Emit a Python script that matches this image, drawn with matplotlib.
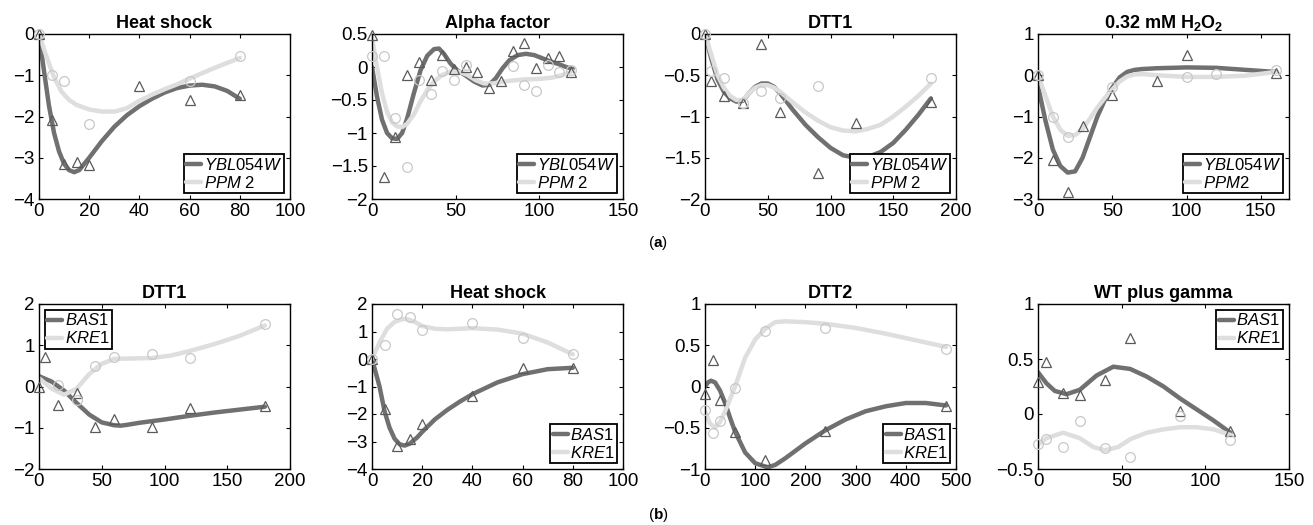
import numpy as np
import matplotlib
matplotlib.use('Agg')
import matplotlib.pyplot as plt
from matplotlib.ticker import FuncFormatter

plt.rcParams['font.family'] = ['Liberation Sans', 'DejaVu Sans']
plt.rcParams['mathtext.fontset'] = 'custom'
plt.rcParams['mathtext.rm'] = 'Liberation Sans'
plt.rcParams['mathtext.it'] = 'Liberation Sans:italic'
plt.rcParams['mathtext.bf'] = 'Liberation Sans:bold'

DARK = '#707070'
LIGHT = '#dedede'
nan = np.nan

# ---- (a) YBL054W / PPM2 ----
# Heat shock
t1 = [0, 5, 10, 15, 20, 40, 60, 80]
ybl1 = [0, -2.09, -3.14, -3.11, -3.18, -1.27, -1.59, -1.48]
ppm1 = [0, -1.0, -1.13, nan, -2.17, nan, -1.15, -0.53]
ybl1_fit_x = [0, 2, 4, 6, 8, 10, 12, 14, 16, 18, 20, 25, 30, 35, 40, 45, 50, 55, 60, 65, 70, 75, 80]
ybl1_fit_y = [0, -0.9, -1.75, -2.4, -2.85, -3.15, -3.3, -3.35, -3.3, -3.15, -3.0, -2.6, -2.25,
              -1.97, -1.75, -1.57, -1.42, -1.31, -1.25, -1.23, -1.27, -1.38, -1.57]
ppm1_fit_x = [0, 3, 6, 9, 12, 15, 20, 25, 30, 35, 40, 45, 50, 55, 60, 65, 70, 75, 80]
ppm1_fit_y = [0, -0.55, -1.05, -1.4, -1.6, -1.72, -1.83, -1.88, -1.88, -1.8, -1.62, -1.47,
              -1.34, -1.22, -1.08, -0.95, -0.82, -0.7, -0.58]

# Alpha factor
t2 = [0, 7, 14, 21, 28, 35, 42, 49, 56, 63, 70, 77, 84, 91, 98, 105, 112, 119]
ybl2 = [0.49, -1.66, -1.06, -0.12, 0.08, -0.2, 0.18, -0.03, 0.0, -0.08, -0.32, -0.21,
        0.24, 0.37, -0.02, 0.13, 0.17, -0.07]
ppm2 = [0.17, 0.16, -0.78, -1.52, -0.2, -0.41, -0.06, -0.2, 0.03, nan, nan, nan,
        0.02, -0.28, -0.37, 0.03, -0.08, -0.04]
ybl2_fit_x = [0, 3, 6, 9, 12, 15, 18, 21, 25, 29, 33, 37, 40, 43, 47, 51, 56, 61, 66, 70,
              74, 78, 82, 87, 92, 97, 102, 107, 112, 116, 120]
ybl2_fit_y = [0, -0.45, -0.8, -1.0, -1.08, -1.09, -1.0, -0.78, -0.4, -0.05, 0.17, 0.27,
              0.28, 0.2, 0.05, -0.05, -0.13, -0.22, -0.28, -0.27, -0.17, -0.02, 0.1, 0.18,
              0.2, 0.18, 0.13, 0.08, 0.04, 0.0, -0.03]
ppm2_fit_x = [0, 3, 6, 9, 12, 15, 18, 21, 25, 29, 33, 37, 42, 47, 52, 57, 62, 67, 72, 77,
              82, 90, 100, 108, 114, 120]
ppm2_fit_y = [0.45, 0.0, -0.4, -0.68, -0.84, -0.9, -0.91, -0.86, -0.72, -0.52, -0.35, -0.22,
              -0.12, -0.07, -0.07, -0.12, -0.2, -0.25, -0.25, -0.23, -0.21, -0.19, -0.18,
              -0.16, -0.12, -0.06]

# DTT1
t3 = [0, 5, 15, 30, 45, 60, 90, 120, 180]
ybl3 = [0, -0.57, -0.75, -0.84, -0.12, -0.94, -1.69, -1.08, -0.82]
ppm3 = [0, -0.45, -0.53, -0.84, -0.69, -0.78, -0.63, -1.52, -0.53]
ybl3_fit_x = [0, 5, 10, 15, 20, 25, 30, 35, 40, 45, 50, 55, 60, 70, 80, 90, 100, 110, 120,
              130, 140, 150, 160, 170, 180]
ybl3_fit_y = [0, -0.3, -0.55, -0.7, -0.78, -0.82, -0.81, -0.72, -0.64, -0.6, -0.6, -0.64,
              -0.72, -0.92, -1.1, -1.25, -1.38, -1.47, -1.5, -1.49, -1.43, -1.32, -1.16,
              -0.98, -0.78]
ppm3_fit_x = ybl3_fit_x
ppm3_fit_y = [0, -0.25, -0.5, -0.65, -0.75, -0.8, -0.8, -0.72, -0.65, -0.62, -0.62, -0.65,
              -0.7, -0.83, -0.95, -1.05, -1.13, -1.17, -1.18, -1.15, -1.1, -1.0, -0.88,
              -0.75, -0.6]

# 0.32 mM H2O2
t4 = [0, 10, 20, 30, 50, 80, 100, 120, 160]
ybl4 = [0, -2.06, -2.82, -1.24, -0.48, -0.14, 0.5, nan, 0.06]
ppm4 = [0, -1.02, -1.5, nan, -0.28, nan, -0.04, 0.02, 0.12]
ybl4_fit_x = [0, 5, 10, 15, 20, 25, 30, 35, 40, 45, 50, 55, 60, 65, 70, 80, 100, 120, 140, 160]
ybl4_fit_y = [-0.26, -1.1, -1.8, -2.2, -2.36, -2.33, -2.0, -1.5, -1.0, -0.6, -0.3, -0.05,
              0.08, 0.13, 0.15, 0.17, 0.19, 0.18, 0.13, 0.08]
ppm4_fit_x = ybl4_fit_x
ppm4_fit_y = [0, -0.5, -1.0, -1.32, -1.47, -1.45, -1.3, -1.05, -0.78, -0.55, -0.35, -0.15,
              -0.03, 0.02, 0.03, 0.0, -0.04, -0.04, -0.01, 0.08]

# ---- (b) BAS1 / KRE1 ----
# DTT1
t5 = [0, 5, 15, 30, 45, 60, 90, 120, 180]
bas5 = [0, 0.71, -0.45, -0.15, -0.99, -0.79, -0.99, -0.53, -0.47]
kre5 = [nan, nan, 0.04, -0.32, 0.49, 0.71, 0.79, 0.69, 1.52]
bas5_fit_x = [0, 10, 20, 30, 40, 50, 60, 65, 70, 80, 90, 100, 120, 140, 160, 180]
bas5_fit_y = [0.25, 0.12, -0.1, -0.4, -0.68, -0.87, -0.94, -0.95, -0.93, -0.88, -0.84, -0.8,
              -0.71, -0.63, -0.56, -0.49]
kre5_fit_x = [0, 10, 20, 30, 40, 50, 60, 75, 90, 105, 120, 140, 160, 180]
kre5_fit_y = [0.2, -0.05, -0.2, -0.05, 0.3, 0.55, 0.67, 0.68, 0.69, 0.75, 0.86, 1.03, 1.23, 1.48]

# Heat shock
t6 = [0, 5, 10, 15, 20, 40, 60, 80]
bas6 = [0, -1.8, -3.18, -2.92, -2.36, -1.33, -0.32, -0.32]
kre6 = [0, 0.5, 1.64, 1.52, 1.05, 1.3, 0.77, 0.19]
bas6_fit_x = [0, 3, 5, 7, 9, 11, 13, 15, 18, 20, 25, 30, 35, 40, 50, 60, 70, 80]
bas6_fit_y = [0, -1.0, -1.9, -2.5, -2.9, -3.1, -3.15, -3.08, -2.85, -2.65, -2.2, -1.85, -1.55,
              -1.28, -0.85, -0.55, -0.37, -0.32]
kre6_fit_x = [0, 3, 6, 9, 12, 14, 17, 20, 25, 30, 40, 50, 60, 70, 80]
kre6_fit_y = [0, 0.6, 1.1, 1.35, 1.45, 1.45, 1.35, 1.2, 1.1, 1.08, 1.12, 1.07, 0.92, 0.6, 0.17]

# DTT2
t7 = [0, 15, 30, 60, 120, 240, 480]
bas7 = [-0.09, 0.32, -0.16, -0.55, -0.89, -0.54, -0.24]
kre7 = [-0.29, -0.56, -0.42, -0.02, 0.67, 0.71, 0.45]
bas7_fit_x = [0, 6, 12, 20, 30, 40, 50, 60, 80, 100, 125, 140, 160, 200, 240, 280, 320, 360,
              400, 440, 480]
bas7_fit_y = [0, 0.05, 0.07, 0.05, -0.05, -0.2, -0.38, -0.55, -0.8, -0.93, -0.98, -0.95,
              -0.87, -0.69, -0.53, -0.4, -0.3, -0.24, -0.2, -0.2, -0.23]
kre7_fit_x = [0, 10, 20, 30, 40, 50, 60, 80, 100, 120, 140, 160, 200, 240, 300, 360, 420, 480]
kre7_fit_y = [-0.3, -0.45, -0.5, -0.43, -0.3, -0.15, 0.0, 0.35, 0.57, 0.7, 0.78, 0.79, 0.78,
              0.76, 0.71, 0.64, 0.56, 0.48]

# WT plus gamma
t8 = [0, 5, 15, 25, 40, 55, 85, 115]
bas8 = [0.29, 0.47, 0.19, 0.17, 0.31, 0.69, 0.03, -0.15]
kre8 = [-0.27, -0.23, -0.3, -0.06, -0.31, -0.39, -0.02, -0.24]
bas8_fit_x = [0, 5, 10, 17, 25, 35, 45, 55, 65, 75, 85, 95, 105, 115]
bas8_fit_y = [0.38, 0.28, 0.21, 0.18, 0.22, 0.35, 0.43, 0.41, 0.34, 0.25, 0.14, 0.04, -0.06, -0.17]
kre8_fit_x = [0, 5, 15, 25, 33, 40, 48, 55, 65, 75, 85, 95, 105, 115]
kre8_fit_y = [-0.28, -0.22, -0.17, -0.22, -0.3, -0.33, -0.3, -0.23, -0.17, -0.14, -0.12,
              -0.12, -0.14, -0.19]

YBL = r'$\mathit{YBL}$054$\mathit{W}$'
PPM = r'$\mathit{PPM}$ 2'
BAS = r'$\mathit{BAS}$1'
KRE = r'$\mathit{KRE}$1'

panels = [
    # title, t, dark pts, light pts, dark fit, light fit, labels, xlim, xticks, ylim, yticks, legend loc
    ('Heat shock', t1, ybl1, ppm1, (ybl1_fit_x, ybl1_fit_y), (ppm1_fit_x, ppm1_fit_y),
     (YBL, PPM), (0, 100), [0, 20, 40, 60, 80, 100], (-4, 0), [-4, -3, -2, -1, 0], 'lower right'),
    ('Alpha factor', t2, ybl2, ppm2, (ybl2_fit_x, ybl2_fit_y), (ppm2_fit_x, ppm2_fit_y),
     (YBL, PPM), (0, 150), [0, 50, 100, 150], (-2, 0.5), [-2, -1.5, -1, -0.5, 0, 0.5], 'lower right'),
    ('DTT1', t3, ybl3, ppm3, (ybl3_fit_x, ybl3_fit_y), (ppm3_fit_x, ppm3_fit_y),
     (YBL, PPM), (0, 200), [0, 50, 100, 150, 200], (-2, 0), [-2, -1.5, -1, -0.5, 0], 'lower right'),
    (r'0.32 mM H$_\mathbf{2}$O$_\mathbf{2}$', t4, ybl4, ppm4, (ybl4_fit_x, ybl4_fit_y),
     (ppm4_fit_x, ppm4_fit_y), (YBL, r'$\mathit{PPM}$2'), (0, 169), [0, 50, 100, 150],
     (-3, 1), [-3, -2, -1, 0, 1], 'lower right'),
    ('DTT1', t5, bas5, kre5, (bas5_fit_x, bas5_fit_y), (kre5_fit_x, kre5_fit_y),
     (BAS, KRE), (0, 200), [0, 50, 100, 150, 200], (-2, 2), [-2, -1, 0, 1, 2], 'upper left'),
    ('Heat shock', t6, bas6, kre6, (bas6_fit_x, bas6_fit_y), (kre6_fit_x, kre6_fit_y),
     (BAS, KRE), (0, 100), [0, 20, 40, 60, 80, 100], (-4, 2), [-4, -3, -2, -1, 0, 1, 2], 'lower right'),
    ('DTT2', t7, bas7, kre7, (bas7_fit_x, bas7_fit_y), (kre7_fit_x, kre7_fit_y),
     (BAS, KRE), (0, 500), [0, 100, 200, 300, 400, 500], (-1, 1), [-1, -0.5, 0, 0.5, 1], 'lower right'),
    ('WT plus gamma', t8, bas8, kre8, (bas8_fit_x, bas8_fit_y), (kre8_fit_x, kre8_fit_y),
     (BAS, KRE), (0, 150), [0, 50, 100, 150], (-0.5, 1), [-0.5, 0, 0.5, 1], 'upper right'),
]

fig = plt.figure(figsize=(13.13, 5.25), dpi=100)

lefts = [39, 372, 705, 1038]
tops = [34, 304]
W, H = 251, 165
fmt = FuncFormatter(lambda v, p: ('%g' % v).replace('-', '\u2212'))

for i, (title, t, dk, lt, dfit, lfit, labels, xl, xt, yl, yt, loc) in enumerate(panels):
    r, c = divmod(i, 4)
    ax = fig.add_axes([lefts[c] / 1313, 1 - (tops[r] + H) / 525, W / 1313, H / 525])
    ax.plot(dfit[0], dfit[1], color=DARK, lw=3.2, solid_capstyle='round', label=labels[0], zorder=2)
    ax.plot(lfit[0], lfit[1], color=LIGHT, lw=3.2, solid_capstyle='round', label=labels[1], zorder=2)
    ax.plot(t, dk, linestyle='none', marker='^', ms=7.5, mfc='none', mec='#5a5a5a', mew=0.9,
            clip_on=False, zorder=3)
    ax.plot(t, lt, linestyle='none', marker='o', ms=7, mfc='none', mec='#c8c8c8', mew=0.9,
            clip_on=False, zorder=3)
    ax.set_xlim(*xl)
    ax.set_ylim(*yl)
    ax.set_xticks(xt)
    ax.set_yticks(yt)
    ax.xaxis.set_major_formatter(fmt)
    ax.yaxis.set_major_formatter(fmt)
    ax.tick_params(direction='in', top=True, right=True, length=3, width=0.8,
                   labelsize=13.5, pad=3)
    for s in ax.spines.values():
        s.set_linewidth(1.0)
    ax.set_title(title, fontsize=13, fontweight='bold', pad=4)
    leg = ax.legend(loc=loc, fontsize=12, frameon=True, fancybox=False, framealpha=1,
                    edgecolor='black', borderpad=0.15, labelspacing=0.12,
                    handlelength=0.9, handletextpad=0.15, borderaxespad=0.35)
    leg.get_frame().set_linewidth(1.3)
    for line in leg.get_lines():
        line.set_linewidth(3.2)

fig.text(658 / 1313, 1 - 243 / 525, r'($\mathbf{a}$)', ha='center', va='center', fontsize=11)
fig.text(658 / 1313, 1 - 515 / 525, r'($\mathbf{b}$)', ha='center', va='center', fontsize=11)

fig.savefig('out.png', dpi=100)
